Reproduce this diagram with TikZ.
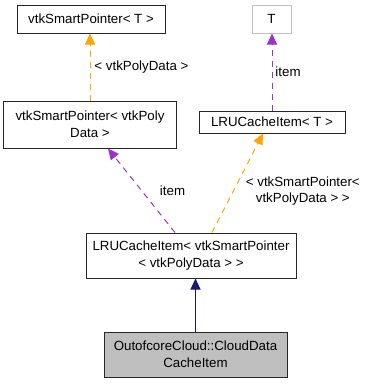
\documentclass[tikz,border=0pt]{standalone}
\usepackage{fontspec}
\setmainfont{Liberation Sans}
\usetikzlibrary{arrows.meta}
\definecolor{EdgeOrange}{RGB}{255,165,0}
\definecolor{EdgePurple}{RGB}{154,50,205}
\definecolor{EdgeNavy}{RGB}{25,25,112}
\definecolor{BoxGray}{RGB}{191,191,191}
\tikzset{
  cls/.style={draw=black!85, line width=1pt, fill=white, inner sep=2pt, align=center,
    font=\fontsize{13.3}{17}\selectfont},
  tmpl/.style={cls, draw=black!25},
  curcls/.style={cls, fill=BoxGray},
  tip/.style={-{Triangle[length=11pt,width=10pt]}},
  usearr/.style={tip, dashed, dash pattern=on 6pt off 5pt, line width=1pt, EdgePurple},
  instarr/.style={tip, dashed, dash pattern=on 6pt off 5pt, line width=1pt, EdgeOrange},
  inharr/.style={tip, line width=1pt, EdgeNavy},
  elabel/.style={font=\fontsize{13.3}{16}\selectfont, text=black, align=center, inner sep=1pt},
}
\begin{document}
\begin{tikzpicture}[x=1pt, y=-1pt]
  \useasboundingbox (0,0) rectangle (367,384);
  % class boxes
  \node[cls, minimum width=148pt, minimum height=28pt] (ptrT) at (91,19) {vtkSmartPointer< T >};
  \node[tmpl, minimum width=39pt, minimum height=28pt] (tparam) at (271.5,19) {T};
  \node[cls, minimum width=172pt, minimum height=47pt] (ptrpoly) at (90,124.5) {vtkSmartPointer< vtkPoly\\Data >};
  \node[cls, minimum width=146pt, minimum height=22pt] (lruT) at (272,122) {LRUCacheItem< T >};
  \node[cls, minimum width=210pt, minimum height=45pt] (lrupoly) at (191,255.5) {LRUCacheItem< vtkSmartPointer\\< vtkPolyData > >};
  \node[curcls, minimum width=183pt, minimum height=45pt] (cacheitem) at (195.5,354.5) {OutofcoreCloud::CloudData\\CacheItem};
  % template instances and members
  \draw[instarr] (ptrpoly.north) -- (ptrpoly.north |- ptrT.south)
    node[elabel, midway, right=3pt] (lblpoly) {< vtkPolyData >};
  \draw[usearr] (lruT.north) -- (lruT.north |- tparam.south)
    node[elabel, midway, right=2pt] (lblitemT) {item};
  \draw[usearr] ([xshift=-16pt]lrupoly.north) -- ([xshift=18pt]ptrpoly.south)
    node[elabel, pos=0.5, right=17pt] (lblitem) {item};
  \draw[instarr] ([xshift=21pt]lrupoly.north) -- ([xshift=-9pt]lruT.south)
    node[elabel, pos=0.42, right=11pt] (lblptr) {< vtkSmartPointer<\\vtkPolyData > >};
  % inheritance
  \draw[inharr] (cacheitem.north) -- (cacheitem.north |- lrupoly.south);
\end{tikzpicture}
\end{document}
